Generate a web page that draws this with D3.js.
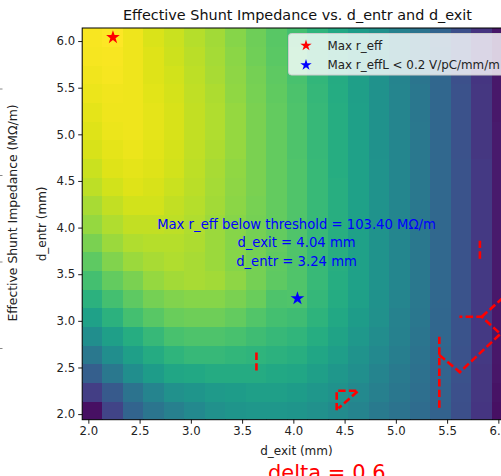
<!DOCTYPE html>
<html>
<head>
<meta charset="utf-8">
<script src="https://cdn.jsdelivr.net/npm/d3@7"></script>
<style>
  html, body { margin: 0; padding: 0; background: #ffffff; overflow: hidden; }
  svg { display: block; font-family: "DejaVu Sans", sans-serif; }
</style>
</head>
<body>
<svg id="chart" width="501" height="476"></svg>
<script>
// ---------------- data ----------------
const dExit = [2.04, 2.24, 2.44, 2.64, 2.84, 3.04, 3.24, 3.44, 3.64, 3.84, 4.04, 4.24, 4.44, 4.64, 4.84, 5.04, 5.24, 5.44, 5.64, 5.84, 6.04];
const dEntr = [2.04, 2.24, 2.44, 2.64, 2.84, 3.04, 3.24, 3.44, 3.64, 3.84, 4.04, 4.24, 4.44, 4.64, 4.84, 5.04, 5.24, 5.44, 5.64, 5.84, 6.04];

// rEffByExit[i][j] = effective shunt impedance (MΩ/m) at dExit[i], dEntr[j]
const rEffByExit = [
  [62.4, 70.8, 78.0, 84.0, 89.4, 94.2, 98.4, 102.0, 105.0, 108.0, 110.4, 112.2, 114.0, 115.2, 116.4, 117.0, 117.6, 118.2, 118.8, 119.1, 119.4],
  [72.0, 76.8, 84.0, 89.4, 93.6, 98.4, 102.0, 105.6, 108.6, 111.0, 112.8, 114.6, 115.8, 117.0, 117.6, 118.2, 118.5, 118.8, 119.1, 119.4, 120.0],
  [79.2, 82.8, 89.4, 93.6, 97.2, 102.0, 105.0, 108.0, 111.0, 112.8, 114.6, 115.8, 117.0, 117.6, 118.2, 118.5, 118.5, 118.5, 118.5, 118.5, 118.5],
  [83.4, 87.0, 93.0, 96.6, 100.2, 104.4, 107.4, 110.4, 112.2, 113.4, 114.6, 115.8, 116.4, 117.0, 117.3, 117.6, 117.6, 117.3, 117.0, 117.0, 116.7],
  [85.8, 90.0, 95.4, 99.0, 102.6, 106.2, 108.6, 111.6, 112.8, 113.4, 114.0, 114.6, 115.2, 115.8, 116.1, 116.4, 116.4, 116.1, 115.8, 115.5, 115.2],
  [88.2, 91.2, 96.0, 100.2, 103.2, 106.8, 109.2, 112.2, 112.2, 112.5, 112.8, 113.4, 113.7, 114.0, 114.3, 114.6, 114.6, 114.3, 114.0, 113.7, 113.4],
  [90.0, 92.4, 96.6, 100.2, 103.2, 106.8, 109.2, 111.6, 111.0, 111.0, 111.0, 111.6, 111.9, 112.2, 112.5, 112.8, 112.8, 112.5, 112.2, 111.9, 111.6],
  [91.2, 93.0, 96.6, 99.6, 102.6, 105.6, 108.0, 109.8, 109.2, 109.2, 109.2, 109.5, 109.8, 110.1, 110.4, 110.4, 110.4, 110.1, 109.8, 109.5, 109.2],
  [91.8, 93.6, 96.6, 99.0, 101.4, 103.8, 106.2, 107.4, 107.4, 107.4, 107.4, 107.7, 108.0, 108.0, 108.0, 108.0, 108.0, 107.7, 107.4, 107.1, 106.8],
  [91.8, 93.6, 96.0, 98.4, 100.2, 102.0, 103.2, 105.0, 105.3, 105.6, 105.6, 105.6, 105.6, 105.6, 105.6, 105.6, 105.6, 105.3, 105.0, 104.7, 104.4],
  [91.2, 93.0, 95.4, 97.5, 99.3, 101.4, 103.4, 103.5, 103.5, 103.5, 103.5, 103.5, 103.5, 103.5, 103.2, 103.2, 103.2, 102.9, 102.6, 102.3, 102.0],
  [90.0, 91.8, 93.6, 95.4, 97.2, 98.7, 99.9, 100.5, 100.5, 100.5, 100.5, 100.5, 100.5, 100.5, 100.2, 100.2, 100.2, 99.9, 99.6, 99.3, 99.0],
  [88.8, 90.3, 91.8, 93.3, 94.8, 96.0, 96.9, 97.2, 97.5, 97.5, 97.5, 97.5, 97.5, 97.2, 97.2, 97.2, 97.2, 96.9, 96.6, 96.3, 96.0],
  [87.0, 88.2, 89.7, 90.9, 92.1, 93.0, 93.9, 94.2, 94.2, 94.2, 94.2, 94.2, 94.2, 94.2, 94.2, 93.9, 93.9, 93.6, 93.6, 93.3, 93.0],
  [84.6, 85.8, 87.0, 88.2, 89.1, 90.0, 90.6, 90.9, 90.9, 90.9, 90.9, 90.9, 90.9, 90.9, 90.6, 90.6, 90.6, 90.6, 90.3, 90.0, 90.0],
  [82.8, 83.7, 84.6, 85.5, 86.1, 86.7, 87.3, 87.6, 87.6, 87.6, 87.6, 87.6, 87.6, 87.6, 87.6, 87.3, 87.3, 87.3, 87.0, 87.0, 86.7],
  [81.0, 81.6, 82.2, 82.8, 83.4, 83.7, 84.0, 84.0, 84.0, 84.0, 84.0, 84.0, 84.0, 84.0, 84.0, 84.0, 83.7, 83.7, 83.4, 83.4, 83.1],
  [78.6, 78.9, 79.2, 79.5, 79.8, 79.8, 80.1, 80.1, 80.1, 80.1, 80.1, 80.1, 80.1, 80.1, 80.1, 79.8, 79.8, 79.8, 79.8, 79.5, 79.2],
  [74.4, 74.7, 75.0, 75.0, 75.3, 75.3, 75.3, 75.3, 75.3, 75.3, 75.3, 75.3, 75.3, 75.3, 75.0, 75.0, 75.0, 75.0, 74.7, 74.7, 74.4],
  [69.3, 69.6, 69.6, 69.9, 69.9, 69.9, 69.9, 69.9, 69.9, 69.9, 69.9, 69.9, 69.9, 69.9, 69.6, 69.6, 69.6, 69.6, 69.3, 69.3, 69.0],
  [62.4, 63.0, 63.3, 63.6, 63.6, 63.9, 63.9, 64.2, 64.2, 64.2, 64.2, 64.2, 64.2, 64.2, 64.2, 64.2, 63.9, 63.9, 63.9, 63.6, 63.6]
];

const colorLimits = [60, 120];

const xTicks = [2.0, 2.5, 3.0, 3.5, 4.0, 4.5, 5.0, 5.5, 6.0];
const yTicks = [2.0, 2.5, 3.0, 3.5, 4.0, 4.5, 5.0, 5.5, 6.0];

// optimum points
const maxPoint = { dExit: 2.24, dEntr: 6.04 };
const maxBelowPoint = { dExit: 4.04, dEntr: 3.24, rEff: 103.40 };

// r_effL = 0.2 contour pieces [dExit, dEntr]
const contourPieces = [
  [[3.64, 2.66], [3.64, 2.45]],
  [[5.82, 3.86], [5.82, 3.66]],
  [[4.423, 2.04], [4.423, 2.251], [4.634, 2.251], [4.44, 2.062]],
  [[5.424, 2.83], [5.424, 2.05]],
  [[5.424, 2.635], [5.624, 2.45], [6.02, 2.86], [5.838, 3.044], [5.62, 3.044]],
  [[5.838, 3.044], [6.12, 3.32]]
];

const legendLabels = ["Max r_eff", "Max r_effL < 0.2 V/pC/mm/m"];
const titleText = "Effective Shunt Impedance vs. d_entr and d_exit";
const xLabel = "d_exit (mm)";
const yLabel = "d_entr (mm)";
const cbarLabel = "Effective Shunt Impedance (MΩ/m)";
const annotLines = [
  "Max r_eff below threshold = " + maxBelowPoint.rEff.toFixed(2) + " MΩ/m",
  "d_exit = " + maxBelowPoint.dExit.toFixed(2) + " mm",
  "d_entr = " + maxBelowPoint.dEntr.toFixed(2) + " mm"
];
const bottomText = "delta = 0.6";

// ---------------- layout ----------------
const svg = d3.select("#chart");
const plot = { left: 82.2, top: 28, right: 512.7, bottom: 419.7 };
const step = 0.2;

const x = d3.scaleLinear().domain([1.94, 6.14]).range([plot.left, plot.right]);
const y = d3.scaleLinear().domain([1.94, 6.14]).range([plot.bottom, plot.top]);
const color = d3.scaleSequential(d3.interpolateViridis).domain(colorLimits);

svg.append("defs").append("clipPath").attr("id", "plotClip")
  .append("rect").attr("x", plot.left).attr("y", plot.top)
  .attr("width", plot.right - plot.left).attr("height", plot.bottom - plot.top);

// heatmap cells
const cells = [];
dExit.forEach((xe, i) => dEntr.forEach((ye, j) => cells.push({ xe, ye, v: rEffByExit[i][j] })));
svg.append("g").attr("clip-path", "url(#plotClip)")
  .selectAll("rect").data(cells).join("rect")
  .attr("x", d => Math.floor(x(d.xe - step / 2)))
  .attr("y", d => Math.floor(y(d.ye + step / 2)))
  .attr("width", d => Math.ceil(x(d.xe + step / 2)) - Math.floor(x(d.xe - step / 2)))
  .attr("height", d => Math.ceil(y(d.ye - step / 2)) - Math.floor(y(d.ye + step / 2)))
  .attr("fill", d => color(d.v))
  .attr("shape-rendering", "crispEdges");

// contours
const line = d3.line().x(d => x(d[0])).y(d => y(d[1]));
svg.append("g").attr("clip-path", "url(#plotClip)")
  .selectAll("path").data(contourPieces).join("path")
  .attr("d", line)
  .attr("fill", "none")
  .attr("stroke", "#ff0000")
  .attr("stroke-width", 2.6)
  .attr("stroke-dasharray", "7.4,3.2");

// stars
const starPath = (r) => d3.symbol().type(d3.symbolStar).size(r * r / 0.8908130915292852)();
svg.append("path").attr("d", starPath(7.2))
  .attr("transform", `translate(${x(maxPoint.dExit)},${y(maxPoint.dEntr)})`)
  .attr("fill", "#ff0000");
svg.append("path").attr("d", starPath(7.2))
  .attr("transform", `translate(${x(maxBelowPoint.dExit)},${y(maxBelowPoint.dEntr)})`)
  .attr("fill", "#0000ff");

// annotation
const annot = svg.append("g").attr("fill", "#0000ff").attr("font-size", "13.2px").attr("text-anchor", "middle");
annotLines.forEach((t, k) => {
  annot.append("text").attr("x", 296.5).attr("y", 228.5 + k * 18.7).text(t);
});

// axes frame
svg.append("rect").attr("x", plot.left).attr("y", plot.top)
  .attr("width", plot.right - plot.left).attr("height", plot.bottom - plot.top)
  .attr("fill", "none").attr("stroke", "#000").attr("stroke-width", 1);

// axes
const xAxis = d3.axisBottom(x).tickValues(xTicks).tickFormat(d3.format(".1f")).tickSize(4).tickPadding(3);
const yAxis = d3.axisLeft(y).tickValues(yTicks).tickFormat(d3.format(".1f")).tickSize(4).tickPadding(3);
const gx = svg.append("g").attr("transform", `translate(0,${plot.bottom})`).call(xAxis);
const gy = svg.append("g").attr("transform", `translate(${plot.left},0)`).call(yAxis);
[gx, gy].forEach(g => {
  g.select(".domain").remove();
  g.selectAll("line").attr("stroke", "#000").attr("stroke-width", 0.9);
  g.selectAll("text").attr("font-size", "11.7px").attr("fill", "#222").attr("font-family", "DejaVu Sans, sans-serif");
});

// labels
svg.append("text").attr("x", (plot.left + plot.right) / 2).attr("y", 20)
  .attr("text-anchor", "middle").attr("font-size", "14.4px").attr("fill", "#111").text(titleText);
svg.append("text").attr("x", (plot.left + plot.right) / 2 - 1).attr("y", 455)
  .attr("text-anchor", "middle").attr("font-size", "12px").attr("fill", "#222").text(xLabel);
svg.append("text").attr("transform", `translate(46,${(plot.top + plot.bottom) / 2}) rotate(-90)`)
  .attr("text-anchor", "middle").attr("font-size", "12px").attr("fill", "#222").text(yLabel);
svg.append("text").attr("transform", "translate(16.5,213) rotate(-90)")
  .attr("text-anchor", "middle").attr("font-size", "12.4px").attr("fill", "#222").text(cbarLabel);

// remnants of neighbouring colorbar ticks at the left edge
svg.append("g").selectAll("line").data([89, 175.5, 262, 348.5]).join("line")
  .attr("x1", 0).attr("x2", 2.5).attr("y1", d => d).attr("y2", d => d)
  .attr("stroke", "#888").attr("stroke-width", 1);

// legend
const lg = svg.append("g");
lg.append("rect").attr("x", 288.5).attr("y", 33.5).attr("width", 240).attr("height", 41.5).attr("rx", 3)
  .attr("fill", "#ffffff").attr("fill-opacity", 0.8).attr("stroke", "#cccccc").attr("stroke-width", 1);
const legendColors = ["#ff0000", "#0000ff"];
legendLabels.forEach((t, k) => {
  const cy = 45.5 + k * 19.5;
  lg.append("path").attr("d", starPath(6)).attr("transform", `translate(306,${cy})`).attr("fill", legendColors[k]);
  lg.append("text").attr("x", 327.5).attr("y", cy + 4.3).attr("font-size", "11.9px").attr("fill", "#222").text(t);
});

// cut-off red text below the plot
svg.append("text").attr("x", 268).attr("y", 480).attr("text-anchor", "start")
  .attr("font-size", "21px").attr("fill", "#ff0000").text(bottomText);
</script>
</body>
</html>
